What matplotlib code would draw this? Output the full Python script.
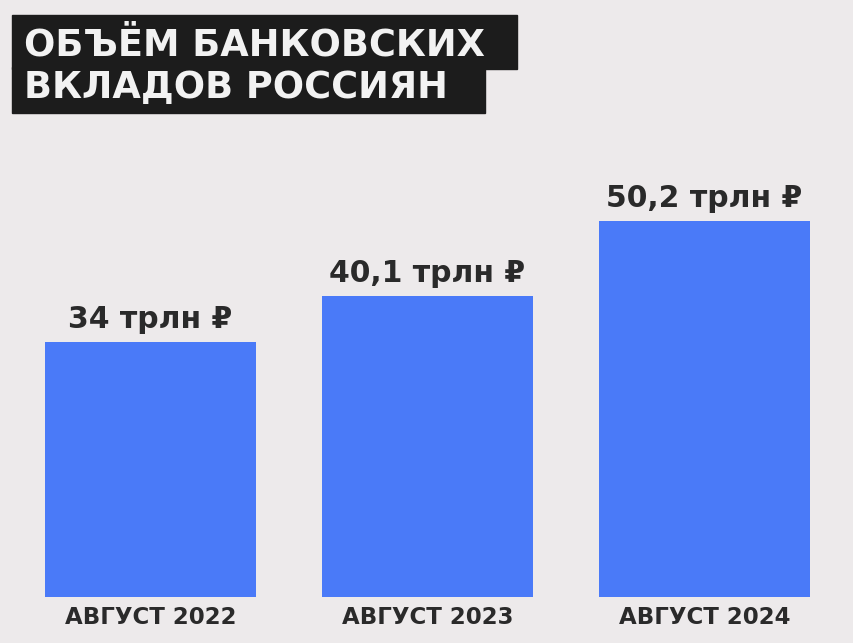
import matplotlib.pyplot as plt
from matplotlib.patches import Rectangle

months = ['АВГУСТ 2022', 'АВГУСТ 2023', 'АВГУСТ 2024']
deposits = [34.0, 40.1, 50.2]
value_labels = ['34 трлн ₽', '40,1 трлн ₽', '50,2 трлн ₽']
title_lines = ['ОБЪЁМ БАНКОВСКИХ', 'ВКЛАДОВ РОССИЯН']

W, H = 854, 643
bg = '#edeaeb'
bar_color = '#4a7af8'
text_color = '#2a2a2a'

fig = plt.figure(figsize=(W / 100, H / 100), dpi=100, facecolor=bg)
ax = fig.add_axes([0, 46 / H, 1, 597 / H])
ax.set_facecolor(bg)

x = range(len(months))
ax.bar(x, deposits, width=211 / 277, color=bar_color)
ax.set_xlim(-150.5 / 277, (W - 150.5) / 277)
ax.set_ylim(0, 597 / 7.5)
ax.axis('off')

for i, (v, lab) in enumerate(zip(deposits, value_labels)):
    ax.annotate(lab, (i, v), xytext=(0, 10), textcoords='offset points',
                ha='center', va='baseline', fontsize=21.5, fontweight='bold',
                color=text_color, family=['DejaVu Sans', 'Noto Sans'])

for i, m in enumerate(months):
    ax.annotate(m, (i, 0), xytext=(0, -15), textcoords='offset points',
                ha='center', va='center', fontsize=16.5, fontweight='bold',
                color=text_color)

# title boxes (pixel coords from top-left)
boxes = [(12, 15, 505, 54), (12, 67, 473, 46)]
for bx, by, bw, bh in boxes:
    fig.patches.append(Rectangle((bx / W, 1 - (by + bh) / H), bw / W, bh / H,
                                 transform=fig.transFigure, color='#1c1c1c', zorder=0))
fig.text(24 / W, 1 - 56 / H, title_lines[0], color='#f2f2f2', fontsize=26.5,
         fontweight='heavy', va='baseline', ha='left')
fig.text(24 / W, 1 - 98 / H, title_lines[1], color='#f2f2f2', fontsize=26.5,
         fontweight='heavy', va='baseline', ha='left')

fig.savefig('out.png', dpi=100, facecolor=bg)
